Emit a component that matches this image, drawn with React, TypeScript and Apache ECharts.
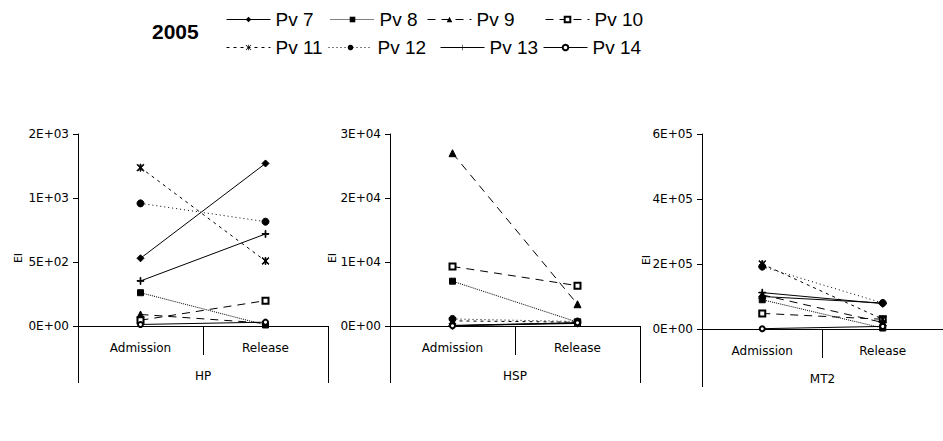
import React, { useEffect, useRef } from "react";
import * as echarts from "echarts";

const categories = ["Admission", "Release"];
const panels = ["HP", "HSP", "MT2"];
const seriesNames = ["Pv 7", "Pv 8", "Pv 9", "Pv 10", "Pv 11", "Pv 12", "Pv 13", "Pv 14"];

// values per panel, per series: [Admission, Release]
const hpValues = [
  [529, 1270],
  [260, 8],
  [90, 22],
  [45, 198],
  [1237, 508],
  [958, 815],
  [352, 719],
  [12, 30],
];
const hspValues = [
  [100, 500],
  [7000, 600],
  [27000, 3400],
  [9300, 6300],
  [800, 600],
  [1100, 700],
  [50, 400],
  [30, 500],
];
const mt2Values = [
  [100000, 80000],
  [90000, 3000],
  [105000, 20000],
  [48000, 30000],
  [200000, 30000],
  [192000, 80000],
  [112000, 78000],
  [1000, 8000],
];
const yMax = [1500, 30000, 600000];
const yInterval = [500, 10000, 200000];

const asterisk =
  "path://M3.5,0L4.5,0L4.5,8L3.5,8Z M0,0.7L0.7,0L8,7.3L7.3,8Z M8,0.7L7.3,0L0,7.3L0.7,8Z";
const plus = "path://M3.6,0L4.4,0L4.4,3.6L8,3.6L8,4.4L4.4,4.4L4.4,8L3.6,8L3.6,4.4L0,4.4L0,3.6L3.6,3.6Z";

const styles: any[] = [
  { symbol: "diamond", size: 7, type: "solid" },
  { symbol: "rect", size: 6, type: [1, 1] },
  { symbol: "triangle", size: 7, type: [8, 6] },
  { symbol: "emptyRect", size: 6, type: [8, 6] },
  { symbol: asterisk, size: 7, type: [3, 4] },
  { symbol: "circle", size: 7, type: [1, 3] },
  { symbol: plus, size: 7, type: "solid" },
  { symbol: "emptyCircle", size: 5, type: "solid" },
];

const legendPos = [
  [226, 10], [330, 10], [427, 10], [545, 10],
  [226, 38], [328, 38], [440, 38], [543, 38],
];

const gridBoxes = [
  { left: 78, top: 134, width: 250, height: 192 },
  { left: 390, top: 134, width: 250, height: 192 },
  { left: 702, top: 134, width: 250, height: 195 },
];
const eiPos = [[18, 258], [332, 258], [646, 260]];

function sci(v: number): string {
  const s = v.toExponential(0);
  const [m, e] = s.split("e");
  const sign = e[0] === "-" ? "-" : "+";
  const ex = e.replace(/[+-]/, "").padStart(2, "0");
  return `${m}E${sign}${ex}`;
}

const FONT = "DejaVu Sans";

export default function App() {
  const ref = useRef<HTMLDivElement>(null);
  useEffect(() => {
    if (!ref.current) return;
    const chart = echarts.init(ref.current, null, { renderer: "svg" });
    const allValues = [hpValues, hspValues, mt2Values];
    const xAxes: any[] = [];
    const yAxes: any[] = [];
    const grids: any[] = [];
    const series: any[] = [];
    panels.forEach((p, i) => {
      grids.push({ ...gridBoxes[i], containLabel: false });
      xAxes.push({
        type: "category",
        gridIndex: i,
        data: categories,
        position: "bottom",
        boundaryGap: true,
        axisLine: { show: true, lineStyle: { color: "#000", width: 1 } },
        axisTick: { show: true, interval: 0, length: 29, lineStyle: { color: "#000", width: 1 } },
        axisLabel: { color: "#000", fontSize: 12, fontFamily: FONT, margin: 16, interval: 0 },
      });
      xAxes.push({
        type: "category",
        gridIndex: i,
        data: [p],
        position: "bottom",
        boundaryGap: true,
        axisLine: { show: true, lineStyle: { color: "#000", width: 1 } },
        axisTick: { show: true, interval: 0, length: i === 2 ? 58 : 57, lineStyle: { color: "#000", width: 1 } },
        axisLabel: { color: "#000", fontSize: 12, fontFamily: FONT, margin: 44, interval: 0 },
      });
      yAxes.push({
        type: "value",
        gridIndex: i,
        min: 0,
        max: yMax[i],
        interval: yInterval[i],
        splitLine: { show: false },
        axisLine: { show: true, lineStyle: { color: "#000", width: 1 } },
        axisTick: { show: true, length: 5, lineStyle: { color: "#000" } },
        axisLabel: { color: "#000", fontSize: 12, fontFamily: FONT, margin: 9, formatter: (v: number) => sci(v) },
      });
      allValues[i].forEach((vals, k) => {
        const st = styles[k];
        series.push({
          type: "line",
          name: seriesNames[k],
          xAxisIndex: i * 2,
          yAxisIndex: i,
          data: vals,
          symbol: st.symbol,
          symbolSize: st.size,
          showSymbol: true,
          color: "#000",
          lineStyle: { color: "#000", width: 1, type: st.type },
          itemStyle: { color: "#000", borderColor: "#000" },
          emphasis: { disabled: true },
          z: 3,
        });
      });
    });
    const legends = seriesNames.map((n, k) => ({
      data: [n],
      left: legendPos[k][0],
      top: legendPos[k][1],
      itemWidth: 44,
      itemHeight: 7,
      itemGap: 0,
      padding: 0,
      selectedMode: false,
      lineStyle: { width: 1 },
      textStyle: { fontSize: 19, fontFamily: "Liberation Sans", color: "#000" },
    }));
    chart.setOption({
      animation: false,
      backgroundColor: "#fff",
      title: {
        text: "2005",
        left: 152,
        top: 21,
        padding: 0,
        textStyle: { fontSize: 21, fontWeight: "bold", fontFamily: "Liberation Sans", color: "#000" },
      },
      legend: legends,
      grid: grids,
      xAxis: xAxes,
      yAxis: yAxes,
      series,
      graphic: eiPos.map(([x, y]) => ({
        type: "text",
        x,
        y,
        rotation: Math.PI / 2,
        style: { text: "EI", fontSize: 11, fontFamily: FONT, fill: "#000", align: "center", verticalAlign: "middle" },
      })),
    });
    return () => chart.dispose();
  }, []);
  return <div ref={ref} style={{ width: 943, height: 441, position: "absolute", left: 0, top: 0 }} />;
}
